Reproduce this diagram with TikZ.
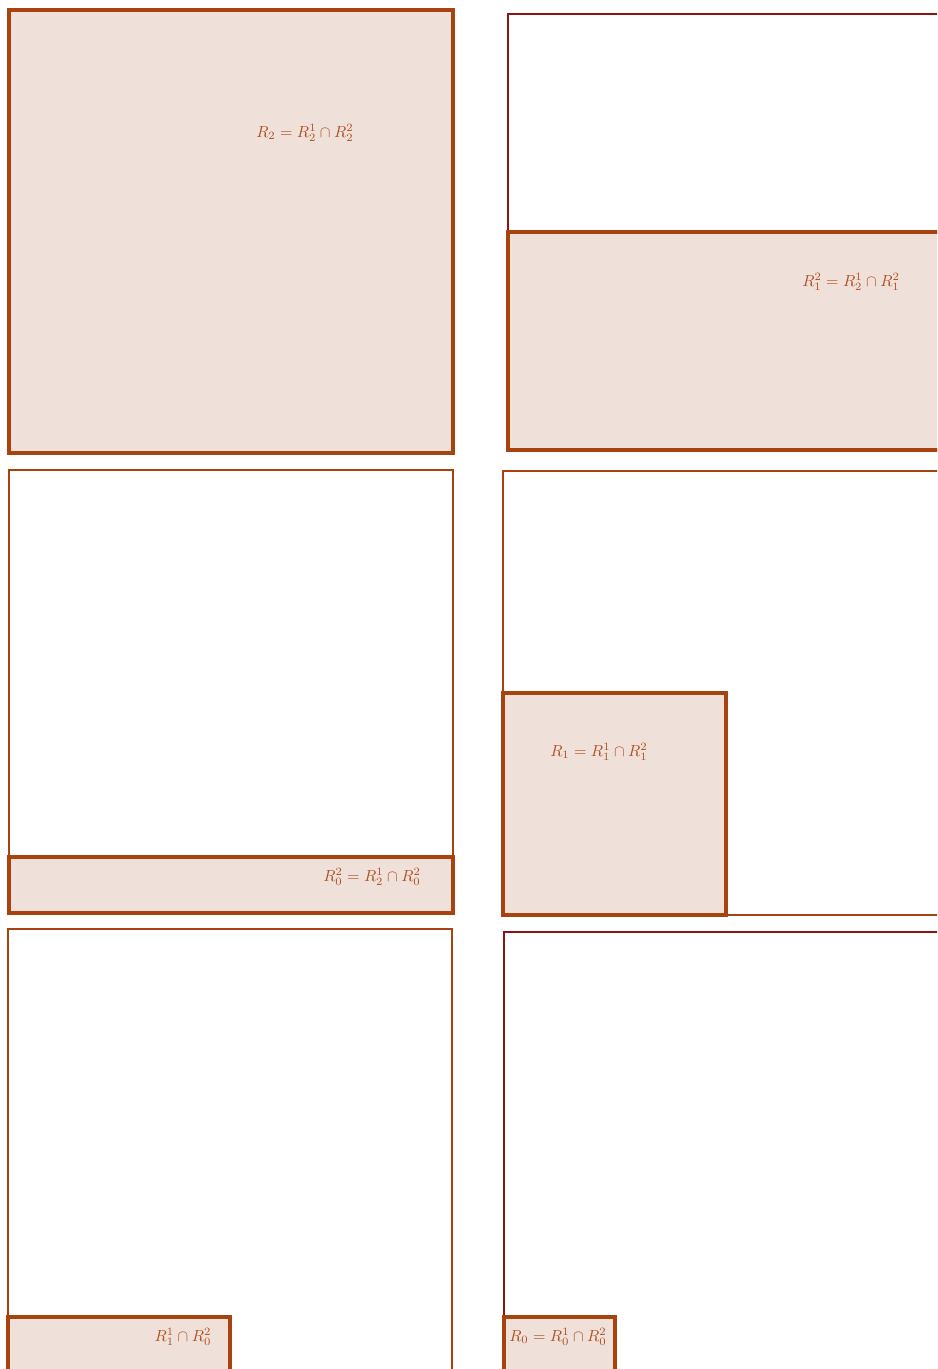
\documentclass[tikz,border=0pt]{standalone}
\usepackage{amsmath}
\begin{document}
\begin{tikzpicture}[x=0.625pt,y=-0.625pt,
  fillbox/.style={draw=brownc,fill=fillc,line width=2.0pt},
  outerbox/.style={draw=brownc,line width=1.2pt},
  redbox/.style={draw=redc,line width=1.2pt},
  lbl/.style={text=textc,font=\normalsize,inner sep=0pt}]
\definecolor{brownc}{HTML}{A8420F}
\definecolor{redc}{HTML}{8E1414}
\definecolor{fillc}{HTML}{EFE0D9}
\definecolor{textc}{HTML}{B0501F}
\useasboundingbox (0,0) rectangle (937,1369);
\clip (0,0) rectangle (937,1369);
% panel 1
\draw[fillbox] (9,10) rectangle (453,453);
\node[lbl] (l1) at (305,133) {$R_2=R_2^1\cap R_2^2$};
% panel 2
\draw[redbox] (508,14) rectangle (960,450);
\draw[fillbox] (508,232) rectangle (960,450);
\node[lbl] (l2) at (851,282) {$R_1^2=R_2^1\cap R_1^2$};
% panel 3
\draw[outerbox] (9,470) rectangle (453,913);
\draw[fillbox] (9,857) rectangle (453,913);
\node[lbl] (l3) at (372,877) {$R_0^2=R_2^1\cap R_0^2$};
% panel 4
\draw[outerbox] (503,471) rectangle (960,915);
\draw[fillbox] (503,693) rectangle (726,915);
\node[lbl] (l4) at (599,752) {$R_1=R_1^1\cap R_1^2$};
% panel 5
\draw[outerbox] (8,929) rectangle (452,1390);
\draw[fillbox] (8,1317) rectangle (230,1390);
\node[lbl] (l5) at (183,1337) {$R_1^1\cap R_0^2$};
% panel 6
\draw[redbox] (504,932) rectangle (960,1390);
\draw[fillbox] (504,1317) rectangle (615,1390);
\node[lbl] (l6) at (558,1337) {$R_0=R_0^1\cap R_0^2$};
\end{tikzpicture}
\end{document}
